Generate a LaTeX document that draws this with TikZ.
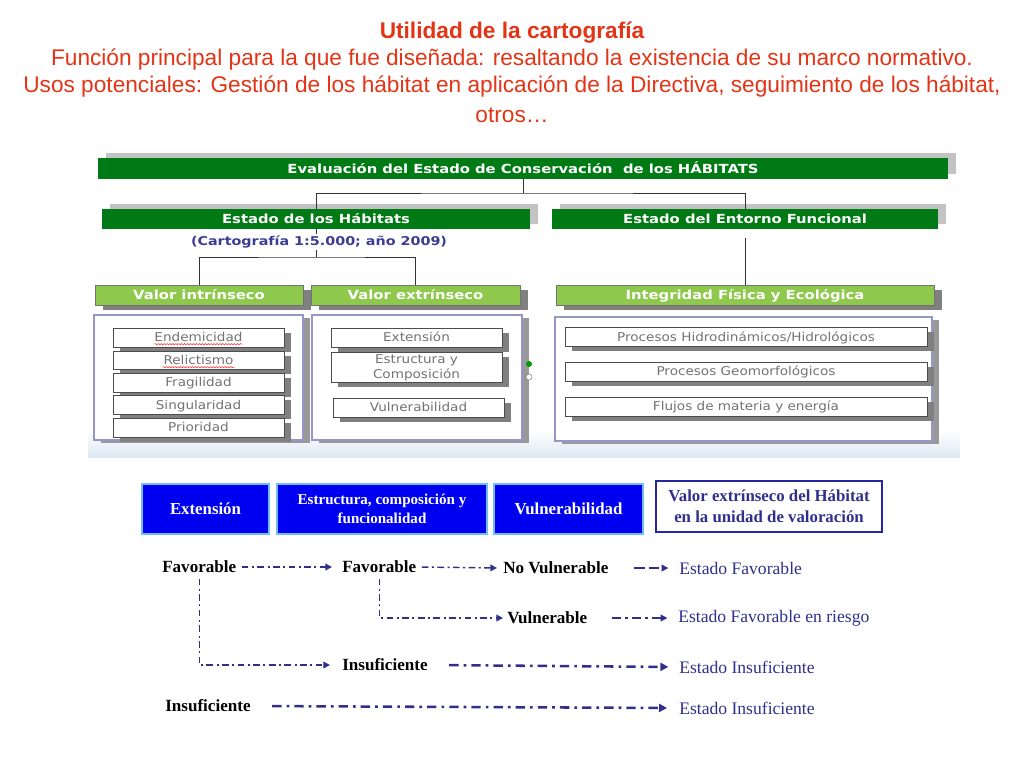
\documentclass[tikz,border=0pt]{standalone}
\usepackage{fontspec}
\setmainfont{Liberation Serif}
\newfontfamily\arialf{Liberation Sans}
\newfontfamily\dvs{DejaVu Sans}[FakeStretch=1.18]
\newfontfamily\dvl{DejaVu Sans}[FakeStretch=1.12]
\usetikzlibrary{arrows.meta,shadows,decorations.pathmorphing}
\definecolor{titlered}{RGB}{228,52,22}
\definecolor{dgreen}{RGB}{0,122,20}
\definecolor{lgreen}{RGB}{142,200,76}
\definecolor{shgray}{RGB}{128,128,128}
\definecolor{ltgray}{RGB}{195,195,195}
\definecolor{lav}{RGB}{150,150,205}
\definecolor{boxtxt}{RGB}{115,115,115}
\definecolor{navy}{RGB}{48,48,140}
\definecolor{cartblue}{RGB}{60,60,150}
\definecolor{bblue}{RGB}{0,0,240}
\definecolor{bborder}{RGB}{110,190,250}
\definecolor{fadeblue}{RGB}{222,232,244}
\begin{document}
\begin{tikzpicture}[x=0.75pt,y=-0.75pt,
  wh/.style 2 args={minimum width=#1*0.75pt, minimum height=#2*0.75pt, inner sep=0pt, outer sep=0pt},
  ttl/.style={font=\arialf\fontsize{17}{20}\selectfont, text=titlered, inner sep=0pt},
  darkbar/.style={fill=dgreen, text=white, font=\dvs\bfseries\fontsize{9.4}{10}\selectfont,
     text height=8.3pt, text depth=1.5pt,
     drop shadow={shadow xshift=6pt, shadow yshift=3.75pt, fill=ltgray, opacity=1}},
  lightbar/.style={fill=lgreen, draw=black!55, line width=0.5pt, text=white, font=\dvs\bfseries\fontsize{9.4}{10}\selectfont,
     text height=8.3pt, text depth=1.5pt,
     drop shadow={shadow xshift=6pt, shadow yshift=-4pt, fill=shgray, opacity=1}},
  panel/.style={fill=white, draw=lav, line width=0.8pt,
     drop shadow={shadow xshift=5.5pt, shadow yshift=-2.5pt, fill=shgray!80, opacity=1}},
  ibox/.style={fill=white, draw=black!70, line width=0.5pt, text=boxtxt, align=center,
     font=\dvl\fontsize{9.1}{11}\selectfont,
     drop shadow={shadow xshift=5.5pt, shadow yshift=-3.5pt, fill=shgray, opacity=1}},
  one/.style={text height=8.2pt, text depth=1.8pt},
  bbox/.style={fill=bblue, draw=bborder, line width=1.5pt, text=white, align=center},
  lbl/.style={font=\bfseries\fontsize{12.8}{14}\selectfont, text=black, inner xsep=3pt, inner ysep=2pt, anchor=west},
  res/.style={font=\fontsize{13.2}{15}\selectfont, text=navy, inner xsep=3pt, inner ysep=2pt, anchor=west},
  thin/.style={draw=navy, line width=1.1pt, dash pattern=on 5pt off 2.6pt on 1.5pt off 2.6pt,
     -{Triangle[length=5pt,width=5pt]}},
  thick/.style={draw=navy, line width=1.9pt, dash pattern=on 7pt off 3.8pt on 2pt off 3.8pt,
     -{Triangle[length=6pt,width=6pt]}},
  conn/.style={draw=black!80, line width=0.6pt}
]
\useasboundingbox[fill=white] (0,0) rectangle (1024,768);

% ---------- title ----------
\node[ttl, font=\arialf\bfseries\fontsize{17}{20}\selectfont] (t1) at (512,33) {Utilidad de la cartografía};
\node[ttl] (t2) at (512,60) {Función principal para la que fue diseñada: resaltando la existencia de su marco normativo.};
\node[ttl] (t3) at (512,87) {Usos potenciales: Gestión de los hábitat en aplicación de la Directiva, seguimiento de los hábitat,};
\node[ttl] (t4) at (512,115) {otros\ldots};

% ---------- soft background fade ----------
\shade[top color=white, bottom color=fadeblue] (88,430) rectangle (960,457);

% ---------- top hierarchy ----------
\node[darkbar, wh={850}{21}] (top) at (523,168.5) {Evaluación del Estado de Conservación\ \ de los HÁBITATS};
\node[darkbar, wh={428}{20}] (hab) at (316,219) {Estado de los Hábitats};
\node[darkbar, wh={386}{20}] (ent) at (745,219) {Estado del Entorno Funcional};
\node[text=cartblue, font=\dvs\bfseries\fontsize{9.1}{10}\selectfont, inner sep=1pt] (cart) at (319,242) {(Cartografía 1:5.000; año 2009)};

\node[lightbar, wh={208}{20}] (vin) at (199,295) {Valor intrínseco};
\node[lightbar, wh={209}{20}] (vex) at (415.5,295) {Valor extrínseco};
\node[lightbar, wh={378}{20}] (int) at (745,295) {Integridad Física y Ecológica};

\coordinate (j1) at (523,193);
\coordinate (j2) at (316,257);
\draw[conn] (top.south) -- (j1);
\draw[conn] (hab.north) |- (j1) -| (ent.north);
\draw[conn] (hab.south) -- (hab.south |- cart.north);
\draw[conn] (hab.south |- cart.south) -- (j2);
\draw[conn] (vin.north) |- (j2) -| (vex.north);
\draw[conn, shorten <=7pt] (ent.south) -- (int.north);

% ---------- panels ----------
\node[panel, wh={209}{125}] (pL) at (198.5,377.5) {};
\node[panel, wh={210}{125}] (pM) at (417,377.5) {};
\node[panel, wh={377}{124}] (pR) at (743.5,379) {};

\node[ibox, one, wh={171}{19}] (ende) at (198.5,337.5) {Endemicidad};
\node[ibox, one, wh={171}{18}] (reli) at (198.5,360.5) {Relictismo};
\node[ibox, one, wh={171}{19}] (frag) at (198.5,382.5) {Fragilidad};
\node[ibox, one, wh={171}{19}] (sing) at (198.5,405) {Singularidad};
\node[ibox, one, wh={171}{19}] (prio) at (198.5,427.5) {Prioridad};
\draw[red!85, line width=0.4pt, decorate, decoration={snake, amplitude=0.45pt, segment length=2.2pt}]
  ([xshift=-33pt, yshift=-5pt]ende.center) -- ([xshift=33pt, yshift=-5pt]ende.center);
\draw[red!85, line width=0.4pt, decorate, decoration={snake, amplitude=0.45pt, segment length=2.2pt}]
  ([xshift=-27pt, yshift=-5pt]reli.center) -- ([xshift=27pt, yshift=-5pt]reli.center);

\node[ibox, one, wh={171}{19}] (iext) at (416.5,337.5) {Extensión};
\node[ibox, wh={171}{30}] (iest) at (416.5,367.5) {Estructura y\\Composición};
\node[ibox, one, wh={171}{19}] (ivul) at (418.5,407.5) {Vulnerabilidad};

\node[ibox, one, wh={362}{19}] (phid) at (746,337) {Procesos Hidrodinámicos/Hidrológicos};
\node[ibox, one, wh={362}{19}] (pgeo) at (746,371.5) {Procesos Geomorfológicos};
\node[ibox, one, wh={362}{19}] (pflu) at (746,406.5) {Flujos de materia y energía};

\node[circle, fill=green!60!black, inner sep=0pt, minimum size=4.5pt] (h1) at (529,364) {};
\node[circle, fill=white, draw=black!50, line width=0.4pt, inner sep=0pt, minimum size=4.5pt] (h2) at (529,377) {};

% ---------- lower scheme ----------
\node[bbox, wh={127}{50}, font=\bfseries\fontsize{12.6}{14}\selectfont] (bx1) at (205.5,509) {Extensión};
\node[bbox, wh={210}{50}, font=\bfseries\fontsize{11.3}{14.5}\selectfont] (bx2) at (382,509) {Estructura, composición y\\funcionalidad};
\node[bbox, wh={149}{50}, font=\bfseries\fontsize{12.6}{14}\selectfont] (bx3) at (568.5,509) {Vulnerabilidad};
\node[fill=white, draw=navy!80!blue, line width=1.5pt, text=navy, align=center, wh={226}{51},
      font=\bfseries\fontsize{12.6}{16}\selectfont] (bx4) at (769,506.5) {Valor extrínseco del Hábitat\\en la unidad de valoración};

\node[lbl] (fav1) at (158,567) {Favorable};
\node[lbl] (fav2) at (338,567) {Favorable};
\node[lbl] (nov) at (499,568) {No Vulnerable};
\node[res] (ef) at (675,568) {Estado Favorable};
\node[lbl] (vul) at (503,618) {Vulnerable};
\node[res] (efr) at (674,618) {Estado Favorable en riesgo};
\node[lbl] (ins1) at (338,665) {Insuficiente};
\node[res] (ei1) at (675,667) {Estado Insuficiente};
\node[lbl] (ins2) at (161,706) {Insuficiente};
\node[res] (ei2) at (675,708) {Estado Insuficiente};

\draw[thin, shorten <=1pt, shorten >=4.5pt] (fav1.east) -- (fav2.west);
\draw[thin, shorten <=1pt, shorten >=1.5pt] (fav2.east) -- (nov.west);
\draw[thin, line width=1.5pt, dash pattern=on 8pt off 3pt, shorten <=16pt, shorten >=5pt] (nov.east) -- (ef.west);
\draw[thin, shorten <=2pt] (fav2.south) |- (vul.west);
\draw[thin, shorten <=15pt, shorten >=5pt, line width=1.5pt, dash pattern=on 7pt off 3pt on 2pt off 3pt] (vul.east) -- (efr.west);
\draw[thin, shorten <=2pt, shorten >=6pt] (fav1.south) |- (ins1.west);
\draw[thick, shorten <=13pt, shorten >=5pt] (ins1.east) -- (ei1.west);
\draw[thick, shorten <=13pt, shorten >=6pt] (ins2.east) -- (ei2.west);
\end{tikzpicture}
\end{document}
